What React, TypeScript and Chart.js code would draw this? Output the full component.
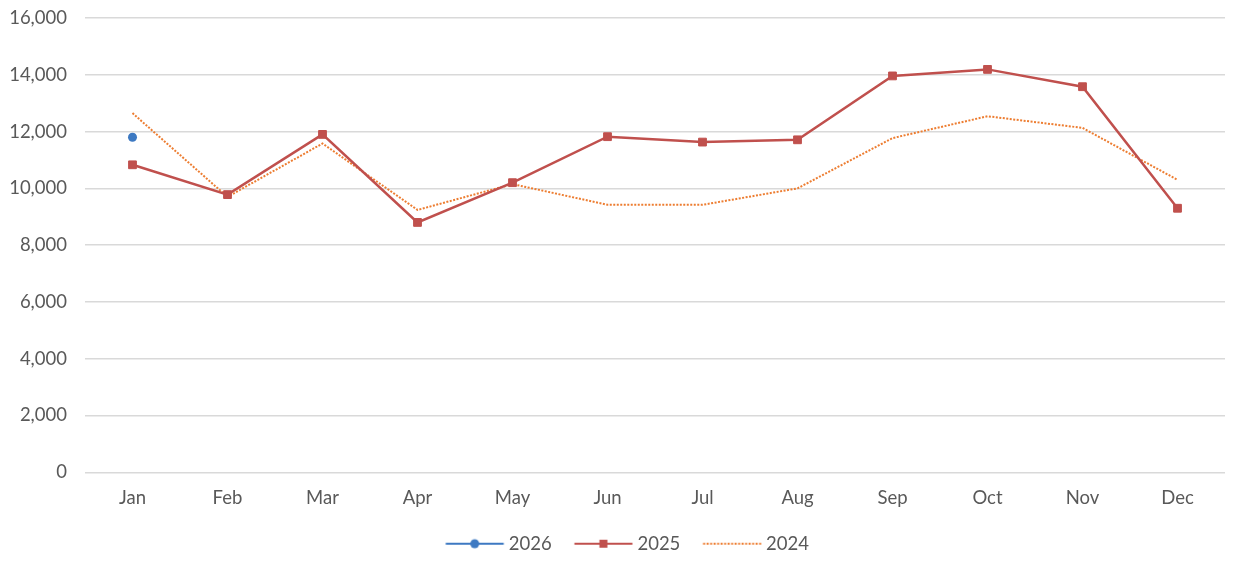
import React, { useEffect, useRef } from 'react';
import { Chart, registerables } from 'chart.js';

Chart.register(...registerables);

const months = ['Jan', 'Feb', 'Mar', 'Apr', 'May', 'Jun', 'Jul', 'Aug', 'Sep', 'Oct', 'Nov', 'Dec'];
const series2026 = [11800, null, null, null, null, null, null, null, null, null, null, null];
const series2025 = [10830, 9780, 11900, 8800, 10200, 11820, 11630, 11710, 13960, 14190, 13580, 9300];
const series2024 = [12650, 9700, 11580, 9240, 10150, 9420, 9420, 10000, 11770, 12540, 12130, 10300];
const yMin = 0;
const yMax = 16000;
const yStep = 2000;

const FONT = 'Lato, "Liberation Sans", sans-serif';
const TEXT = '#595959';
const C2026 = '#3d79c2';
const C2025 = '#c0504d';
const C2024 = '#ed7d31';

// legend icon: image centred on the legend box; line drawn offset to the right
const ICON_W = 80;
function makeIcon(color: string, kind: 'circle' | 'rect' | 'dot'): HTMLCanvasElement {
  const c = document.createElement('canvas');
  c.width = ICON_W;
  c.height = 14;
  const ctx = c.getContext('2d')!;
  const x0 = 19.5;
  const x1 = 77.5;
  const xm = (x0 + x1) / 2;
  ctx.strokeStyle = color;
  ctx.fillStyle = color;
  ctx.lineWidth = 2;
  if (kind === 'dot') ctx.setLineDash([2, 1.5]);
  ctx.beginPath();
  ctx.moveTo(x0, 7);
  ctx.lineTo(x1, 7);
  ctx.stroke();
  ctx.setLineDash([]);
  if (kind === 'circle') {
    ctx.beginPath();
    ctx.arc(xm, 7, 4.5, 0, Math.PI * 2);
    ctx.fill();
  } else if (kind === 'rect') {
    ctx.fillRect(xm - 4, 3, 8, 8);
  }
  return c;
}

const legendShift = {
  id: 'legendShift',
  afterLayout(ch: any) {
    const l = ch.legend;
    if (l) {
      l.left += 3.5;
      l.right += 3.5;
    }
  },
};

export default function App() {
  const ref = useRef<HTMLCanvasElement>(null);
  useEffect(() => {
    document.body.style.margin = '0';
    const icons = [makeIcon(C2026, 'circle'), makeIcon(C2025, 'rect'), makeIcon(C2024, 'dot')];
    const chart = new Chart(ref.current!, {
      type: 'line',
      data: {
        labels: months,
        datasets: [
          {
            label: '2026',
            data: series2026,
            borderColor: C2026,
            backgroundColor: C2026,
            borderWidth: 2,
            pointStyle: 'circle',
            pointRadius: 4.5,
            pointBorderWidth: 0,
          },
          {
            label: '2025',
            data: series2025,
            borderColor: C2025,
            backgroundColor: C2025,
            borderWidth: 2.5,
            pointStyle: 'rect',
            pointRadius: 5.5,
            pointBorderWidth: 1,
          },
          {
            label: '2024',
            data: series2024,
            borderColor: C2024,
            backgroundColor: C2024,
            borderWidth: 2,
            borderDash: [2, 1.5],
            pointRadius: 0,
          },
        ],
      },
      plugins: [legendShift],
      options: {
        animation: false,
        responsive: true,
        maintainAspectRatio: false,
        layout: { padding: { left: 10, right: 17, top: 18, bottom: 11 } },
        plugins: {
          tooltip: { enabled: false },
          legend: {
            position: 'bottom',
            labels: {
              usePointStyle: true,
              pointStyleWidth: 66.5,
              padding: 10,
              color: TEXT,
              font: { family: FONT, size: 18.5 },
              generateLabels: (ch: any) =>
                ch.data.datasets.map((ds: any, i: number) => ({
                  text: ds.label,
                  fillStyle: ds.borderColor,
                  strokeStyle: ds.borderColor,
                  lineWidth: 0,
                  pointStyle: icons[i],
                  fontColor: TEXT,
                  hidden: false,
                  datasetIndex: i,
                })),
            },
          },
        },
        scales: {
          x: {
            offset: true,
            grid: { display: false, drawTicks: false },
            border: { display: false },
            ticks: { color: TEXT, font: { family: FONT, size: 18.5 }, padding: 15 },
          },
          y: {
            min: yMin,
            max: yMax,
            grid: { color: '#d9d9d9', lineWidth: 1.5, drawTicks: false },
            border: { display: false },
            ticks: {
              stepSize: yStep,
              color: TEXT,
              padding: 18,
              font: { family: FONT, size: 18.5 },
              callback: (v: any) => Number(v).toLocaleString('en-US'),
            },
            afterFit: (s: any) => {
              s.width = 75;
              s.paddingTop = 0;
              s.paddingBottom = 0;
            },
          },
        },
      },
    });
    return () => chart.destroy();
  }, []);
  return (
    <div style={{ width: 1242, height: 574, position: 'relative', background: '#fff' }}>
      <canvas ref={ref} />
    </div>
  );
}
